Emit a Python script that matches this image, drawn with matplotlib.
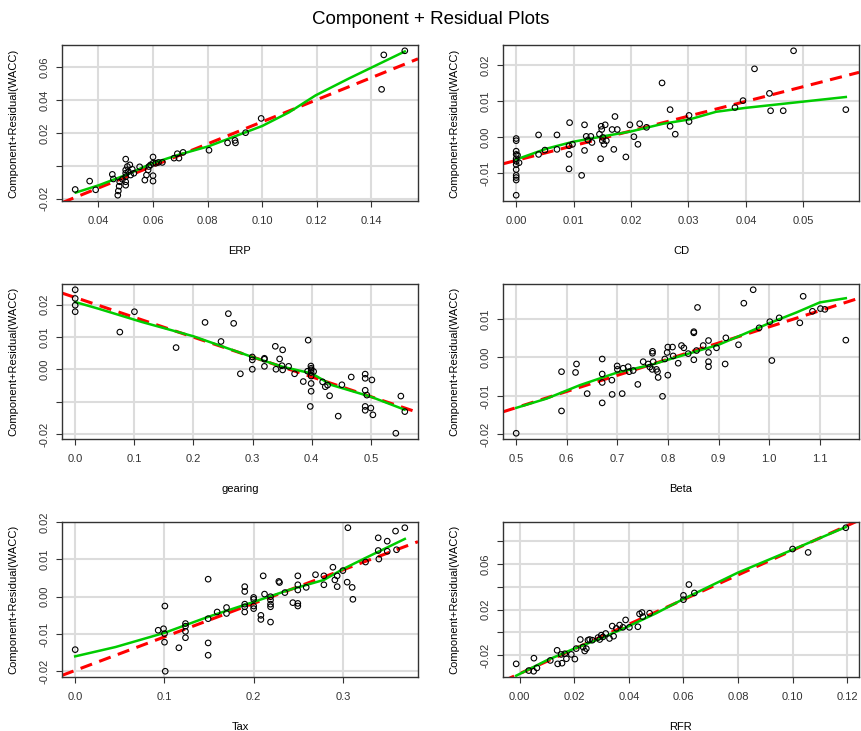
import numpy as np
import matplotlib
matplotlib.use("Agg")
import matplotlib.pyplot as plt
from matplotlib.ticker import MultipleLocator, FuncFormatter

plt.rcParams["font.family"] = ["Liberation Sans", "DejaVu Sans"]

# ---- data (partial residuals) ----
erp_x = [0.0315, 0.0368, 0.039, 0.0451, 0.0455, 0.0471, 0.0473, 0.0476, 0.0478, 0.0488,
         0.050, 0.050, 0.050, 0.050, 0.050, 0.050, 0.0506, 0.051, 0.0515, 0.0518, 0.0524,
         0.053, 0.0551, 0.057, 0.0576, 0.0582, 0.0585, 0.0591, 0.060, 0.060, 0.060, 0.060,
         0.061, 0.062, 0.0634, 0.0677, 0.0689, 0.0695, 0.071, 0.0805, 0.0873, 0.090, 0.0902,
         0.0939, 0.0996, 0.1437, 0.1445, 0.1522]
erp_y = [-0.0144, -0.0093, -0.0146, -0.0052, -0.0080, -0.0179, -0.0153, -0.0124, -0.0097, -0.0082,
         0.0041, -0.0025, -0.0045, -0.0066, -0.0097, -0.0118, -0.0004, -0.0035, 0.0006, -0.0056, -0.0021,
         -0.0045, -0.0006, -0.0087, -0.0056, -0.0025, -0.0004, 0.0006, 0.0054, 0.0016, -0.0060, -0.0093,
         0.0016, 0.0021, 0.0021, 0.0047, 0.0074, 0.0047, 0.0082, 0.0095, 0.0140, 0.0155, 0.0140,
         0.0202, 0.0289, 0.0466, 0.0676, 0.0701]
erp_sx = [0.0317, 0.0402, 0.050, 0.0598, 0.0695, 0.0805, 0.100, 0.1098, 0.1195, 0.1317, 0.1522]
erp_sy = [-0.0163, -0.0118, -0.0056, 0.0016, 0.0068, 0.0120, 0.0243, 0.0326, 0.0429, 0.0532, 0.0697]

cd_x = [0, 0, 0, 0, 0, 0, 0, 0, 0, 0, 0, 0, 0.00023, 0.0005,
        0.0039, 0.0039, 0.005, 0.0071, 0.0071, 0.0092, 0.0092, 0.0092, 0.0093, 0.0098,
        0.0114, 0.0119, 0.0119, 0.0122, 0.0125, 0.013, 0.0132, 0.0145, 0.0147, 0.0148,
        0.0149, 0.015, 0.0151, 0.0153, 0.0155, 0.0157, 0.0167, 0.017, 0.0172, 0.0176,
        0.0191, 0.0198, 0.0205, 0.0212, 0.0215, 0.0227, 0.0254, 0.0268, 0.0268, 0.0277,
        0.0301, 0.0301, 0.0381, 0.0395, 0.0415, 0.0441, 0.0443, 0.0465, 0.0483, 0.0574]
cd_y = [-0.0004, -0.0010, -0.0039, -0.0048, -0.0060, -0.0067, -0.0076, -0.0090, -0.0106, -0.0112,
        -0.0119, -0.0161, -0.0050, -0.0071,
        0.0006, -0.0048, -0.0036, 0.0006, -0.0034, -0.0024, -0.0048, -0.0088, 0.0040, -0.0020,
        -0.0106, 0.0034, -0.0037, 0.0002, -0.0008, 0.0002, -0.0015, 0.0008, -0.0060, 0.0030,
        0.0021, -0.0010, -0.0001, -0.0020, 0.0034, -0.0010, 0.0021, -0.0034, 0.0057, 0.0021,
        -0.0055, 0.0034, 0.0001, -0.0020, 0.0037, 0.0027, 0.0150, 0.0076, 0.0030, 0.0008,
        0.0060, 0.0043, 0.0082, 0.0101, 0.0189, 0.0121, 0.0073, 0.0073, 0.0239, 0.0076]
cd_sx = [0, 0.0053, 0.0099, 0.0151, 0.0198, 0.0256, 0.0302, 0.0348, 0.040, 0.0487, 0.0574]
cd_sy = [-0.0062, -0.0032, -0.0013, 0.0002, 0.0015, 0.0037, 0.0049, 0.0070, 0.0081, 0.0096, 0.0111]

gear_x = [0, 0, 0, 0, 0.0755, 0.1002, 0.1706, 0.2196, 0.2466, 0.259, 0.268, 0.2793,
          0.2995, 0.2995, 0.2995, 0.32, 0.32, 0.32, 0.3384, 0.3395, 0.3457, 0.3497, 0.3508,
          0.3508, 0.3609, 0.371, 0.3857, 0.393, 0.394, 0.3986, 0.399, 0.399, 0.399, 0.399,
          0.399, 0.399, 0.3975, 0.4032, 0.4184, 0.4229, 0.4268, 0.4302, 0.4448, 0.451,
          0.4668, 0.4904, 0.4904, 0.4904, 0.4904, 0.4904, 0.4932, 0.500, 0.5017, 0.5034,
          0.5422, 0.5507, 0.5574]
gear_y = [0.0246, 0.0219, 0.0198, 0.0178, 0.0115, 0.0178, 0.0067, 0.0145, 0.0086, 0.0172, 0.0142, -0.0014,
          0.0038, 0.0029, 0.0000, 0.0034, 0.0031, 0.0009, 0.0071, 0.0000, 0.0032, 0.0011, 0.0060,
          -0.0002, 0.0009, -0.0014, -0.0038, -0.0006, 0.0090, 0.0010, 0.0003, -0.0002, -0.0010, -0.0021,
          -0.0044, -0.0068, -0.0115, -0.0007, -0.0039, -0.0054, -0.0049, -0.0082, -0.0145, -0.0048,
          -0.0024, -0.0015, -0.0028, -0.0065, -0.0115, -0.0127, -0.0080, -0.0120, -0.0033, -0.0141,
          -0.0198, -0.0083, -0.0131]
gear_sx = [0, 0.04, 0.1132, 0.2, 0.2995, 0.35, 0.40, 0.434, 0.50, 0.557]
gear_sy = [0.0208, 0.0187, 0.0146, 0.0102, 0.0038, 0.0008, -0.0013, -0.0049, -0.0085, -0.0125]

beta_x = [0.5, 0.5896, 0.5896, 0.6173, 0.6192, 0.6403, 0.67, 0.67, 0.67, 0.67, 0.6891, 0.6897,
          0.6996, 0.70, 0.7095, 0.7115, 0.7213, 0.7233, 0.7312, 0.7404, 0.751, 0.7609, 0.7642,
          0.7688, 0.7694, 0.7694, 0.7708, 0.7773, 0.7793, 0.7806, 0.7892, 0.7938, 0.7984, 0.7997,
          0.7997, 0.809, 0.8103, 0.8202, 0.8267, 0.8314, 0.84, 0.8511, 0.8511, 0.8511, 0.8564,
          0.8584, 0.8696, 0.8801, 0.8801, 0.8801, 0.8801, 0.8959, 0.913, 0.9144, 0.9394, 0.9499,
          0.9684, 0.9802, 1.0013, 1.0053, 1.0198, 1.0606, 1.0672, 1.0856, 1.1014, 1.11, 1.1515]
beta_y = [-0.0197, -0.0037, -0.0139, -0.0039, -0.0017, -0.0094, -0.0004, -0.0043, -0.0065, -0.0118, -0.0059, -0.0096,
          -0.0022, -0.0031, -0.0094, -0.0028, -0.0024, -0.0037, -0.0034, -0.0070, -0.0011, -0.0017, -0.0025,
          -0.0031, 0.0016, 0.0011, -0.0011, -0.0031, -0.0037, -0.0052, -0.0101, -0.0004, 0.0013, 0.0027,
          -0.0046, 0.0027, 0.0004, -0.0015, 0.0031, 0.0025, 0.0010, 0.0067, 0.0064, -0.0006, 0.0018,
          0.0130, 0.0031, 0.0044, 0.0013, -0.0011, -0.0024, 0.0025, -0.0017, 0.0051, 0.0033, 0.0141,
          0.0176, 0.0077, 0.0093, -0.0008, 0.0103, 0.0090, 0.0159, 0.0120, 0.0127, 0.0125, 0.0045]
beta_sx = [0.5, 0.56, 0.6258, 0.70, 0.7675, 0.7997, 0.8564, 0.90, 0.9486, 1.0, 1.054, 1.10, 1.1515]
beta_sy = [-0.0131, -0.0107, -0.0072, -0.0039, -0.0019, -0.0006, 0.0016, 0.0033, 0.0060, 0.0089, 0.0117, 0.0143, 0.0154]

tax_x = [0, 0.093, 0.099, 0.1001, 0.1005, 0.1001, 0.1009, 0.1162, 0.1236, 0.1236, 0.1236, 0.1236,
         0.149, 0.149, 0.149, 0.149, 0.1591, 0.1696, 0.1696, 0.19, 0.19, 0.19, 0.19, 0.19,
         0.2, 0.2, 0.2, 0.2, 0.2081, 0.2081, 0.2107, 0.2122, 0.2189, 0.2189, 0.2189, 0.2189, 0.2189,
         0.2282, 0.229, 0.235, 0.2439, 0.2495, 0.2495, 0.2495, 0.2495, 0.2495, 0.2589, 0.2693,
         0.2787, 0.2787, 0.2888, 0.291, 0.2936, 0.2936, 0.30, 0.3048, 0.3056, 0.3104, 0.3112,
         0.3254, 0.3396, 0.3396, 0.3403, 0.3497, 0.3497, 0.359, 0.3601, 0.3694]
tax_y = [-0.0142, -0.0090, -0.0086, -0.0099, -0.0025, -0.0122, -0.0200, -0.0137, -0.0072, -0.0079, -0.0093, -0.0110,
         0.0047, -0.0059, -0.0124, -0.0157, -0.0041, -0.0029, -0.0045, 0.0027, 0.0014, -0.0020, -0.0027, -0.0041,
         -0.0002, -0.0007, -0.0025, -0.0032, -0.0050, -0.0061, 0.0056, 0.0007, 0.0000, -0.0009, -0.0020, -0.0027, -0.0068,
         0.0041, 0.0038, 0.0011, -0.0016, 0.0056, 0.0032, 0.0018, -0.0018, -0.0025, 0.0025, 0.0059,
         0.0056, 0.0032, 0.0079, 0.0045, 0.0056, 0.0027, 0.0070, 0.0039, 0.0185, 0.0025, -0.0007,
         0.0093, 0.0158, 0.0124, 0.0101, 0.0149, 0.0122, 0.0176, 0.0126, 0.0185]
tax_sx = [0, 0.0452, 0.10, 0.149, 0.20, 0.2394, 0.2787, 0.30, 0.3254, 0.3694]
tax_sy = [-0.0160, -0.0135, -0.0097, -0.0054, -0.0014, 0.0018, 0.0045, 0.0074, 0.0104, 0.0155]

rfr_x = [-0.0013, 0.0033, 0.0051, 0.0052, 0.0063, 0.0112, 0.0137, 0.0139, 0.0152, 0.0155, 0.0165,
         0.0171, 0.0189, 0.0202, 0.0207, 0.0222, 0.0232, 0.0238, 0.0244, 0.025, 0.0256, 0.0266,
         0.0287, 0.0293, 0.0299, 0.0305, 0.0315, 0.0329, 0.0339, 0.0344, 0.0354, 0.0366, 0.0378,
         0.0388, 0.0402, 0.0433, 0.0439, 0.0448, 0.0451, 0.0476, 0.060, 0.060, 0.062, 0.064,
         0.100, 0.1057, 0.1195]
rfr_y = [-0.0276, -0.0335, -0.0341, -0.0226, -0.0312, -0.0246, -0.0157, -0.0276, -0.0193, -0.0270, -0.0187,
         -0.0231, -0.0193, -0.0234, -0.0142, -0.0062, -0.0128, -0.0163, -0.0142, -0.0068, -0.0062, -0.0068,
         -0.0045, -0.0062, -0.0024, -0.0039, -0.0009, -0.0053, 0.0056, -0.0033, 0.0036, 0.0065, 0.0045,
         0.0110, 0.0045, 0.0050, 0.0163, 0.0175, 0.0139, 0.0169, 0.0326, 0.0288, 0.0421, 0.0347,
         0.0733, 0.0703, 0.0920]
rfr_sx = [-0.0013, 0.0098, 0.020, 0.0305, 0.040, 0.050, 0.060, 0.0799, 0.100, 0.1195]
rfr_sy = [-0.0380, -0.0246, -0.0142, -0.0045, 0.0056, 0.0169, 0.0294, 0.0525, 0.0727, 0.0926]

panels = [
    ("ERP", erp_x, erp_y, erp_sx, erp_sy, 0.02, 0.02, "%.2f", [0.0]),
    ("CD", cd_x, cd_y, cd_sx, cd_sy, 0.01, 0.01, "%.2f", []),
    ("gearing", gear_x, gear_y, gear_sx, gear_sy, 0.1, 0.01, "%.1f", [-0.01]),
    ("Beta", beta_x, beta_y, beta_sx, beta_sy, 0.1, 0.01, "%.1f", []),
    ("Tax", tax_x, tax_y, tax_sx, tax_sy, 0.1, 0.01, "%.1f", []),
    ("RFR", rfr_x, rfr_y, rfr_sx, rfr_sy, 0.02, 0.02, "%.2f", [0.0, 0.04, 0.08]),
]

W, H = 862, 731
fig = plt.figure(figsize=(W / 100, H / 100), dpi=100)
fig.text(0.5, 1 - 20 / H, "Component + Residual Plots", ha="center", va="center", fontsize=13.5)

cols = [(62, 418), (503, 859)]
rows = [(45, 201), (284, 439), (522, 677)]

for i, (name, x, y, sx, sy, xstep, ystep, xfmt, hide) in enumerate(panels):
    x = np.array(x)
    y = np.array(y)
    l, r = cols[i % 2]
    t, b = rows[i // 2]
    ax = fig.add_axes([l / W, 1 - b / H, (r - l) / W, (b - t) / H])

    # R style 4% padding
    xpad = 0.04 * (x.max() - x.min())
    ypad = 0.04 * (y.max() - y.min())
    xlim = (x.min() - xpad, x.max() + xpad)
    ylim = (y.min() - ypad, y.max() + ypad)

    ax.xaxis.set_major_locator(MultipleLocator(xstep))
    ax.yaxis.set_major_locator(MultipleLocator(ystep))
    ax.xaxis.set_major_formatter(FuncFormatter(lambda v, p, f=xfmt: f % (0 if abs(v) < 1e-12 else v)))
    ax.yaxis.set_major_formatter(FuncFormatter(
        lambda v, p, h=hide: "" if any(abs(v - q) < 1e-9 for q in h) else "%.2f" % (0 if abs(v) < 1e-12 else v)))
    ax.grid(True, color="#dcdcdc", lw=1.5)
    ax.set_axisbelow(True)

    # linear fit of the partial residuals across the whole axis
    k, c = np.polyfit(x, y, 1)
    xx = np.array(xlim)
    ax.plot(xx, k * xx + c, color="red", ls=(0, (4, 2.5)), lw=2.2, zorder=2)
    ax.plot(sx, sy, color="#00cc00", lw=1.8, zorder=3)
    ax.scatter(x, y, s=16, facecolors="none", edgecolors="black", linewidths=0.8, zorder=4)

    ax.set_xlim(xlim)
    ax.set_ylim(ylim)
    ax.tick_params(axis="both", labelsize=8, length=4, colors="#333333", pad=7)
    ax.tick_params(axis="y", labelrotation=90, pad=5)
    for lab in ax.get_yticklabels():
        lab.set_va("center")
    for s in ax.spines.values():
        s.set_color("#333333")
        s.set_linewidth(1.0)
    ax.set_xlabel(name, fontsize=8, labelpad=14)
    ax.set_ylabel("Component+Residual(WACC)", fontsize=8, labelpad=15)

fig.savefig("out.png", dpi=100)
